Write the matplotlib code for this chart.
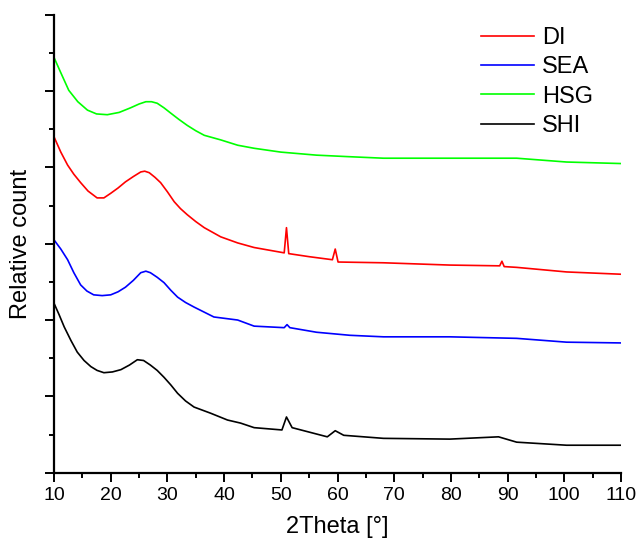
import numpy as np
import matplotlib
matplotlib.use("Agg")
import matplotlib.pyplot as plt
from matplotlib.ticker import MultipleLocator, NullFormatter

plt.rcParams['font.family'] = ['Liberation Sans', 'DejaVu Sans']

# values (2Theta in degrees, relative count in axis units)
hsg_x = [10, 11.2, 12.6, 14.2, 15.9, 17.5, 19.4, 21.5, 23.5, 25.0, 26.2, 27.2, 28.2, 29.4, 30.6,
         32.0, 33.5, 35.0, 36.5, 39.4, 42.4, 45.3, 50.0, 56.3, 62.0, 68.1, 79.8, 91.6, 100.4, 110]
hsg_y = [5.44, 5.24, 5.01, 4.86, 4.75, 4.70, 4.69, 4.72, 4.78, 4.83, 4.86, 4.86, 4.84, 4.78, 4.71,
         4.63, 4.55, 4.48, 4.42, 4.36, 4.29, 4.25, 4.20, 4.16, 4.14, 4.12, 4.12, 4.12, 4.07, 4.05]

di_x = [10, 11.2, 12.4, 13.5, 14.7, 16.0, 17.6, 18.8, 20, 21.3, 22.6, 24.0, 25.3, 26.0, 26.8, 27.8,
        28.8, 30.0, 31.2, 32.3, 33.5, 35.0, 36.5, 39.4, 42.4, 45.3, 50.6, 51.0, 51.4, 55.0,
        59.1, 59.6, 60.1, 68.1, 79.8, 88.6, 89.0, 89.4, 91.6, 100.4, 110]
di_y = [4.40, 4.20, 4.03, 3.91, 3.80, 3.69, 3.60, 3.60, 3.66, 3.73, 3.81, 3.88, 3.94, 3.95, 3.93, 3.87,
        3.80, 3.68, 3.55, 3.46, 3.38, 3.29, 3.21, 3.09, 3.01, 2.95, 2.88, 3.21, 2.87, 2.83,
        2.79, 2.93, 2.76, 2.75, 2.72, 2.71, 2.77, 2.70, 2.69, 2.63, 2.60]

sea_x = [10, 11.2, 12.4, 13.5, 14.7, 15.8, 17.0, 18.5, 20.0, 21.3, 22.6, 24.0, 25.3, 26.2, 27.0, 28.2,
         29.4, 30.6, 31.8, 33.2, 34.7, 38.2, 42.4, 45.3, 50.6, 51.1, 51.6, 56.3, 62.2, 68.1, 79.8,
         91.6, 100.4, 110]
sea_y = [3.05, 2.93, 2.79, 2.62, 2.46, 2.38, 2.33, 2.32, 2.33, 2.37, 2.43, 2.52, 2.62, 2.64, 2.62, 2.56,
         2.49, 2.39, 2.30, 2.23, 2.17, 2.04, 2.00, 1.92, 1.90, 1.94, 1.90, 1.84, 1.80, 1.78, 1.78,
         1.76, 1.71, 1.70]

shi_x = [10, 10.9, 11.8, 13.0, 14.1, 15.3, 16.5, 17.6, 18.8, 20.3, 21.8, 23.3, 24.7, 25.8, 27.0,
         28.2, 29.4, 30.6, 31.8, 33.2, 34.7, 37.6, 40.6, 42.9, 45.3, 50.2, 51.0, 52.0, 58.2,
         59.6, 61.1, 68.1, 79.8, 88.4, 91.6, 100.4, 110]
shi_y = [2.22, 2.07, 1.91, 1.73, 1.58, 1.47, 1.39, 1.34, 1.31, 1.32, 1.35, 1.41, 1.48, 1.47, 1.41,
         1.34, 1.25, 1.15, 1.04, 0.94, 0.86, 0.78, 0.69, 0.65, 0.59, 0.56, 0.73, 0.59, 0.47,
         0.55, 0.49, 0.45, 0.44, 0.47, 0.40, 0.36, 0.36]

fig = plt.figure(figsize=(6.4, 5.43), dpi=100)
ax = fig.add_axes([54 / 640, 1 - 472.7 / 543, 567 / 640, 458 / 543])

ax.plot(di_x, di_y, color='#ff0000', lw=1.2, label='DI')
ax.plot(sea_x, sea_y, color='#0000ff', lw=1.2, label='SEA')
ax.plot(hsg_x, hsg_y, color='#00ff00', lw=1.2, label='HSG')
ax.plot(shi_x, shi_y, color='black', lw=1.2, label='SHI')

ax.set_xlim(10, 110)
ax.set_ylim(0, 6)
ax.xaxis.set_major_locator(MultipleLocator(10))
ax.xaxis.set_minor_locator(MultipleLocator(5))
ax.yaxis.set_major_locator(MultipleLocator(1))
ax.yaxis.set_minor_locator(MultipleLocator(0.5))
ax.yaxis.set_major_formatter(NullFormatter())

for s in ['top', 'right']:
    ax.spines[s].set_visible(False)
for s in ['left', 'bottom']:
    ax.spines[s].set_linewidth(1.6)
ax.tick_params(which='major', direction='out', length=6.5, width=1.4, labelsize=14, pad=3.5)
ax.tick_params(which='minor', direction='out', length=3.6, width=1.4)

ax.set_xlabel('2Theta [°]', fontsize=17)
ax.set_ylabel('Relative count', fontsize=17)
ax.xaxis.set_label_coords(0.5, -0.095)
ax.yaxis.set_label_coords(-0.038, 0.5)

ax.legend(loc='upper left', bbox_to_anchor=(481 / 640, 1 - 27 / 543), bbox_transform=fig.transFigure,
          frameon=False, fontsize=17, handlelength=2.25, handletextpad=0.34, labelspacing=0.31,
          borderaxespad=0, borderpad=0)

fig.savefig('out.png', dpi=100)
